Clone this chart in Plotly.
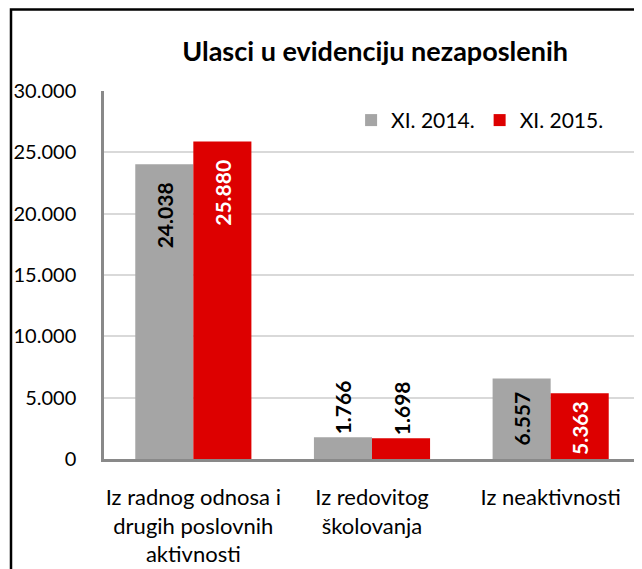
import plotly.graph_objects as go

categories = ["Iz radnog odnosa i<br>drugih poslovnih<br>aktivnosti",
              "Iz redovitog<br>školovanja",
              "Iz neaktivnosti"]
series_names = ["XI. 2014.", "XI. 2015."]
vals_2014 = [24038, 1766, 6557]
vals_2015 = [25880, 1698, 5363]
y_ticks = [0, 5000, 10000, 15000, 20000, 25000, 30000]

FONT = "Lato, Noto Sans, sans-serif"
NBSP = "\u00a0"

x_idx = list(range(len(categories)))
label_pos = ["inside", "outside", "inside"]


def bar(vals, name, color, in_color, pads):
    return go.Bar(
        x=x_idx, y=vals, name=name,
        marker=dict(color=color, line=dict(width=0)),
        texttemplate=["%{y:,d}" + NBSP * p for p in pads],
        textposition=label_pos, textangle=-90,
        insidetextanchor="end",
        insidetextfont=dict(color=in_color, size=21, family=FONT, weight="bold"),
        outsidetextfont=dict(color="black", size=21, family=FONT, weight="bold"),
        cliponaxis=False,
    )


fig = go.Figure()
fig.add_trace(bar(vals_2014, series_names[0], "#a5a5a5", "black", [3, 0, 2]))
fig.add_trace(bar(vals_2015, series_names[1], "#dd0000", "white", [3, 0, 1]))

fig.update_layout(
    width=634, height=561,
    margin=dict(l=96, r=2, t=83, b=108),
    paper_bgcolor="white", plot_bgcolor="white",
    separators=",.",
    font=dict(family=FONT, size=21, color="black"),
    title=dict(text="<b>Ulasci u evidenciju nezaposlenih</b>",
               x=0.579, xanchor="center", y=0.9216, yanchor="middle",
               font=dict(size=27, family=FONT, color="black")),
    barmode="group", bargap=0.35, bargroupgap=0,
    legend=dict(orientation="h", x=0.461, xanchor="left", y=0.92, yanchor="middle",
                font=dict(size=21, family=FONT), bgcolor="rgba(0,0,0,0)",
                itemwidth=30, traceorder="normal"),
    showlegend=True,
    xaxis=dict(range=[-0.5, 2.5], tickvals=x_idx, ticktext=categories,
               showgrid=False, ticks="", showline=True, linecolor="#898989",
               linewidth=2.5, ticklabelstandoff=17, tickfont=dict(size=22)),
    yaxis=dict(range=[0, 30000], tickvals=y_ticks, tickformat=",d",
               showgrid=True, gridcolor="#d9d9d9", gridwidth=1.5,
               zeroline=False, showline=True, linecolor="#898989", linewidth=2.5,
               ticks="", ticklabelstandoff=21, tickfont=dict(size=20)),
    shapes=[dict(type="rect", xref="paper", yref="paper",
                 x0=-93 / 536, x1=1.2, y0=-0.5, y1=1 + 82 / 370,
                 line=dict(color="black", width=2.5), layer="above")],
)

fig.write_html("out.html")
